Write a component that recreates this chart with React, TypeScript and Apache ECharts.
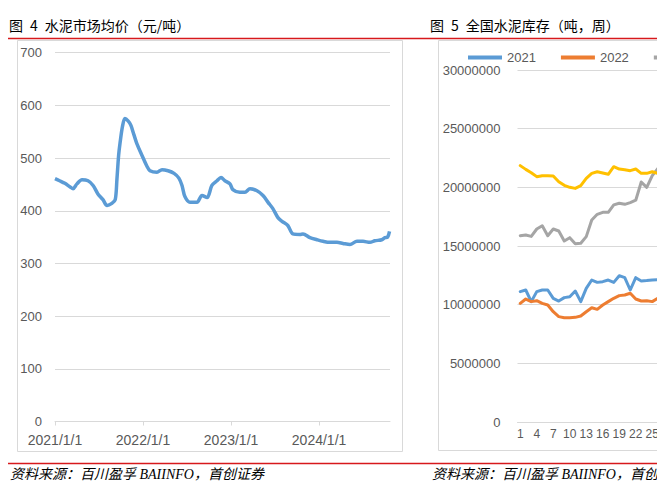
import React, { useEffect, useRef } from 'react';
import * as echarts from 'echarts';

// ---- Left chart: cement market average price (yuan/ton) ----
const priceDates = [
  '2021-01-01', '2021-01-20', '2021-02-11', '2021-03-05', '2021-03-17', '2021-04-02', '2021-04-23',
  '2021-05-18', '2021-06-08', '2021-06-28', '2021-07-19', '2021-08-05', '2021-08-25', '2021-09-08',
  '2021-09-15', '2021-09-22', '2021-09-28', '2021-10-08', '2021-10-18', '2021-11-01', '2021-11-12',
  '2021-11-24', '2021-12-07', '2021-12-28', '2022-01-18', '2022-01-30', '2022-02-28', '2022-03-21',
  '2022-04-15', '2022-05-10', '2022-05-30', '2022-06-12', '2022-06-24', '2022-07-15', '2022-08-13',
  '2022-09-03', '2022-09-24', '2022-10-14', '2022-11-04', '2022-11-21', '2022-12-07', '2022-12-28',
  '2023-01-09', '2023-02-07', '2023-02-28', '2023-03-21', '2023-04-19', '2023-05-14', '2023-06-04',
  '2023-06-24', '2023-07-15', '2023-08-01', '2023-08-25', '2023-09-15', '2023-10-14', '2023-10-27',
  '2023-11-25', '2023-12-24', '2024-01-18', '2024-02-16', '2024-03-16', '2024-04-10', '2024-05-09',
  '2024-06-07', '2024-07-02', '2024-07-31', '2024-08-20', '2024-09-18', '2024-10-01', '2024-10-12',
  '2024-10-20',
];
const priceValues = [
  461, 457, 452, 445, 442, 451, 459,
  457, 448, 432, 421, 410, 414, 421,
  460, 505, 529, 560, 575, 570, 562,
  545, 527, 505, 484, 476, 473, 478,
  476, 471, 462, 448, 427, 416, 416,
  429, 425, 448, 457, 463, 457, 451,
  440, 435, 435, 442, 438, 429, 416,
  404, 387, 380, 372, 356, 355, 356,
  349, 345, 342, 340, 340, 338, 336,
  342, 342, 340, 343, 345, 349, 350,
  361,
];
const priceAxisStart = '2021-01-01';
const priceAxisEnd = '2024-10-22';
const yearLabels = ['2021/1/1', '2022/1/1', '2023/1/1', '2024/1/1'];

// ---- Right chart: national cement inventory (tons, weekly) ----
const weeks = [
  '1', '2', '3', '4', '5', '6', '7', '8', '9', '10', '11', '12', '13', '14', '15', '16', '17', '18',
  '19', '20', '21', '22', '23', '24', '25', '26', '27', '28', '29', '30', '31', '32', '33', '34', '35',
  '36', '37', '38', '39', '40', '41', '42', '43', '44', '45', '46', '47', '48', '49', '50', '51', '52',
];
const seriesNames = ['2021', '2022', '2023', '2024'];
const inv2021 = [
  11110000, 11250000, 10260000, 11110000, 11250000, 11250000, 10540000, 10310000, 10600000, 10680000,
  11160000, 10260000, 11390000, 12100000, 11900000, 11960000, 12100000, 11900000, 12470000, 12300000,
  11250000, 12300000, 12020000, 12050000, 12100000, 12130000,
];
const inv2022 = [
  10110000, 10480000, 10260000, 10340000, 10110000, 9970000, 9400000, 8980000, 8890000, 8890000,
  8920000, 9030000, 9400000, 9740000, 9600000, 9970000, 10260000, 10540000, 10770000, 10820000,
  10970000, 10480000, 10310000, 10340000, 10260000, 10540000,
];
const inv2023 = [
  15880000, 15940000, 15820000, 16450000, 16730000, 15880000, 16450000, 16280000, 15430000, 15710000,
  15200000, 15230000, 15800000, 17220000, 17700000, 17870000, 17870000, 18500000, 18640000, 18550000,
  18700000, 18900000, 20450000, 20000000, 21000000, 21600000,
];
const inv2024 = [
  21850000, 21530000, 21250000, 20910000, 20990000, 20990000, 20970000, 20480000, 20170000, 20000000,
  19910000, 20140000, 20770000, 21190000, 21330000, 21220000, 21110000, 21760000, 21560000, 21500000,
  21420000, 21560000, 21190000, 21190000, 21330000, 21190000,
];
const invColors = ['#5B9BD5', '#ED7D31', '#A5A5A5', '#FFC000'];

const DAY = 86400000;
const YEAR_DAYS = 365.25;
const dayOffset = (d: string) => (Date.parse(d) - Date.parse(priceAxisStart)) / DAY;

const axisFont = '"Liberation Sans", Arial, sans-serif';
const cjkFont = '"Noto Sans CJK SC", "Liberation Sans", sans-serif';
const footFont = '"Liberation Serif", "Noto Sans CJK SC", serif';

export default function App() {
  const ref = useRef<HTMLDivElement>(null);

  useEffect(() => {
    const chart = echarts.init(ref.current as HTMLDivElement, null, { renderer: 'svg' });
    const priceData = priceDates.map((d, i) => [dayOffset(d), priceValues[i]]);
    const invData = [inv2021, inv2022, inv2023, inv2024];

    const option: any = {
      animation: false,
      backgroundColor: '#ffffff',
      legend: {
        left: 463,
        top: 46,
        width: 500,
        orient: 'horizontal',
        itemWidth: 34,
        itemHeight: 4,
        itemGap: 25,
        icon: 'rect',
        data: seriesNames,
        textStyle: { fontSize: 13, color: '#595959', fontFamily: axisFont },
      },
      grid: [
        { left: 55, top: 52.7, width: 335, height: 368.8, containLabel: false, outerBoundsMode: 'none' },
        { left: 517.5, top: 70, width: 286, height: 352, containLabel: false, outerBoundsMode: 'none' },
      ],
      xAxis: [
        {
          gridIndex: 0,
          type: 'value',
          min: 0,
          max: dayOffset(priceAxisEnd),
          interval: YEAR_DAYS,
          axisLine: { show: true, lineStyle: { color: '#d9d9d9', width: 1 } },
          axisTick: { show: true, length: 4, lineStyle: { color: '#d9d9d9' } },
          splitLine: { show: false },
          axisLabel: {
            showMaxLabel: false,
            margin: 11,
            fontSize: 14,
            color: '#595959',
            fontFamily: axisFont,
            formatter: (v: number) => {
              const k = Math.round(v / YEAR_DAYS);
              return Math.abs(v - k * YEAR_DAYS) < 1 && yearLabels[k] ? yearLabels[k] : '';
            },
          },
        },
        {
          gridIndex: 1,
          type: 'category',
          data: weeks,
          boundaryGap: true,
          axisLine: { show: true, lineStyle: { color: '#d9d9d9', width: 1 } },
          axisTick: { show: false },
          axisLabel: {
            interval: (index: number) => index % 3 === 0 && index <= 24,
            margin: 6,
            fontSize: 12,
            color: '#595959',
            fontFamily: axisFont,
          },
        },
      ],
      yAxis: [
        {
          gridIndex: 0,
          type: 'value',
          min: 0,
          max: 700,
          interval: 100,
          axisLine: { show: false },
          axisTick: { show: false },
          splitLine: { lineStyle: { color: '#d9d9d9', width: 1 } },
          axisLabel: { margin: 13, fontSize: 13, color: '#595959', fontFamily: axisFont },
        },
        {
          gridIndex: 1,
          type: 'value',
          min: 0,
          max: 30000000,
          interval: 5000000,
          axisLine: { show: false },
          axisTick: { show: false },
          splitLine: { lineStyle: { color: '#d9d9d9', width: 1 } },
          axisLabel: {
            margin: 17,
            fontSize: 13,
            color: '#595959',
            fontFamily: axisFont,
            formatter: (v: number) => String(Math.round(v)),
          },
        },
      ],
      series: [
        {
          name: '水泥市场均价',
          type: 'line',
          xAxisIndex: 0,
          yAxisIndex: 0,
          data: priceData,
          showSymbol: false,
          smooth: 0.3,
          lineStyle: { color: '#5B9BD5', width: 3.5 },
          itemStyle: { color: '#5B9BD5' },
        },
        ...seriesNames.map((name, i) => ({
          name,
          type: 'line',
          xAxisIndex: 1,
          yAxisIndex: 1,
          data: invData[i],
          showSymbol: false,
          lineStyle: { color: invColors[i], width: 3, join: 'round', cap: 'round' },
          itemStyle: { color: invColors[i] },
        })),
      ],
      graphic: [
        {
          type: 'text',
          x: 9,
          y: 25,
          style: { text: '图\u20024\u2002水泥市场均价（元/吨）', fontSize: 14, fill: '#000', fontFamily: cjkFont, verticalAlign: 'middle' },
        },
        {
          type: 'text',
          x: 430,
          y: 25,
          style: { text: '图\u20025\u2002全国水泥库存（吨，周）', fontSize: 14, fill: '#000', fontFamily: cjkFont, verticalAlign: 'middle' },
        },
        { type: 'line', shape: { x1: 8, y1: 38.5, x2: 657, y2: 38.5 }, style: { stroke: '#d7191c', lineWidth: 1.3 } },
        { type: 'line', shape: { x1: 8, y1: 463.5, x2: 657, y2: 463.5 }, style: { stroke: '#d7191c', lineWidth: 1.3 } },
        { type: 'rect', shape: { x: 17.5, y: 40.5, width: 385, height: 411 }, style: { fill: 'none', stroke: '#d9d9d9', lineWidth: 1 }, z: -1 },
        { type: 'rect', shape: { x: 438.5, y: 40.5, width: 400, height: 410 }, style: { fill: 'none', stroke: '#d9d9d9', lineWidth: 1 }, z: -1 },
        {
          type: 'text',
          x: 10,
          y: 474,
          style: { text: '资料来源：百川盈孚 BAIINFO，首创证券', fontSize: 14, fontStyle: 'italic', fill: '#000', fontFamily: footFont, verticalAlign: 'middle' },
        },
        {
          type: 'text',
          x: 432,
          y: 474,
          style: { text: '资料来源：百川盈孚 BAIINFO，首创', fontSize: 14, fontStyle: 'italic', fill: '#000', fontFamily: footFont, verticalAlign: 'middle' },
        },
      ],
    };
    chart.setOption(option);
    return () => chart.dispose();
  }, []);

  return (
    <div
      ref={ref}
      style={{ position: 'fixed', left: 0, top: 0, width: 657, height: 483, background: '#ffffff' }}
    />
  );
}
